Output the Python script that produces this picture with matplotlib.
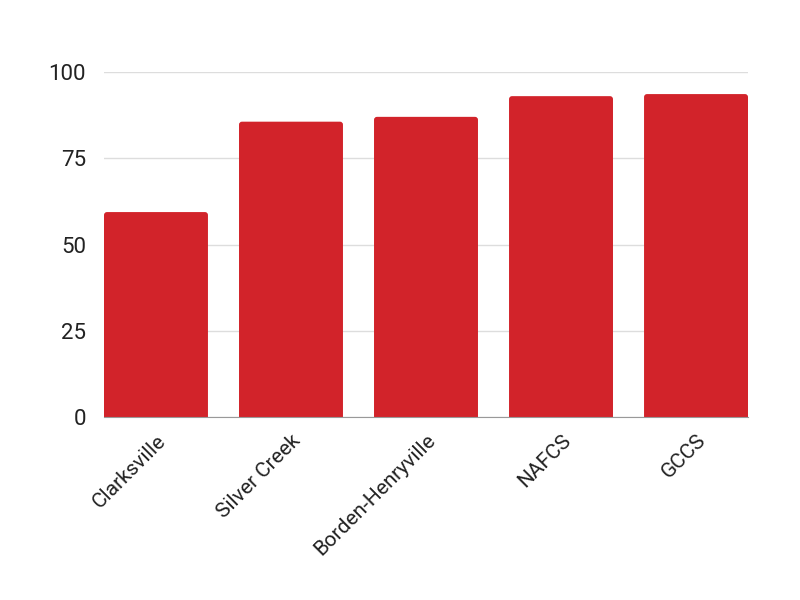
import matplotlib
matplotlib.use("Agg")
import matplotlib.pyplot as plt
from matplotlib.patches import FancyBboxPatch

schools = ["Clarksville", "Silver Creek", "Borden-Henryville", "NAFCS", "GCCS"]
values = [59.4, 85.6, 87.0, 93.0, 93.6]
yticks = [0, 25, 50, 75, 100]

plt.rcParams['font.family'] = ['Roboto', 'DejaVu Sans']

fig = plt.figure(figsize=(8, 6), dpi=100)
ax = fig.add_axes([0.13, 0.305, 0.805, 0.575])

width = 0.77
bars = ax.bar(range(len(schools)), values, width=width, color="#d2232a", zorder=2)

# swap the plain bars for ones with slightly rounded tops
for b in bars:
    b.set_visible(False)
    patch = FancyBboxPatch((b.get_x(), -5), b.get_width(), b.get_height() + 5,
                           boxstyle="round,pad=0,rounding_size=0.022",
                           mutation_aspect=39, facecolor="#d2232a",
                           edgecolor="none", zorder=2)
    ax.add_patch(patch)

ax.set_xlim(-width / 2, len(schools) - 1 + width / 2)
ax.set_ylim(0, 100)
ax.set_yticks(yticks)
ax.set_xticks(range(len(schools)))
ax.set_xticklabels(schools, rotation=45, ha="right", rotation_mode="anchor")

ax.grid(axis="y", color="#dddddd", linewidth=1, zorder=0)
for s in ["top", "right", "left"]:
    ax.spines[s].set_visible(False)
ax.spines["bottom"].set_color("#999999")
ax.spines["bottom"].set_zorder(3)
ax.tick_params(axis="both", length=0, labelcolor="#222222")
ax.tick_params(axis="y", pad=13, labelsize=16)
ax.tick_params(axis="x", pad=10, labelsize=15)

fig.savefig("out.png", dpi=100)
